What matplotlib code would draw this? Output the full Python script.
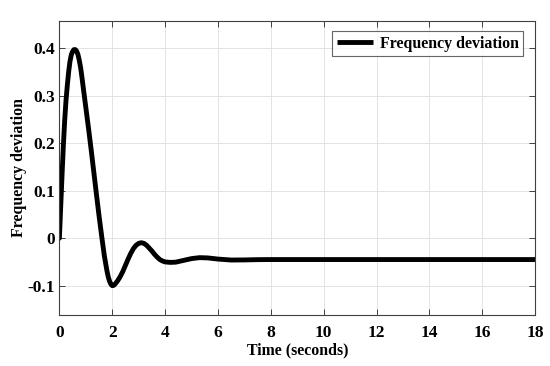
import matplotlib
matplotlib.use("Agg")
import matplotlib.pyplot as plt
from matplotlib.ticker import FuncFormatter

time_s = [0.0, 0.05, 0.1, 0.15, 0.2, 0.25, 0.3, 0.35, 0.4, 0.45, 0.5, 0.55, 0.6,
          0.65, 0.7, 0.75, 0.8, 0.85, 0.9, 1.0, 1.1, 1.2, 1.3, 1.4, 1.5, 1.6,
          1.7, 1.8, 1.85, 1.9, 1.95, 2.0, 2.05, 2.1, 2.2, 2.3, 2.4, 2.5, 2.6,
          2.7, 2.8, 2.9, 3.0, 3.1, 3.2, 3.3, 3.4, 3.5, 3.6, 3.7, 3.8, 3.9, 4.0,
          4.2, 4.4, 4.6, 4.8, 5.0, 5.3, 5.6, 6.0, 6.5, 7.0, 7.5, 8.0, 10.0,
          12.0, 14.0, 16.0, 18.0]
freq_dev = [0.0, 0.067, 0.133, 0.195, 0.248, 0.29, 0.322, 0.35, 0.372, 0.386,
            0.393, 0.397, 0.397, 0.394, 0.387, 0.375, 0.36, 0.34, 0.318, 0.275,
            0.232, 0.187, 0.14, 0.093, 0.047, 0.004, -0.037, -0.069, -0.082,
            -0.091, -0.097, -0.1, -0.0995, -0.097, -0.09, -0.081, -0.07, -0.057,
            -0.044, -0.032, -0.022, -0.015, -0.011, -0.0095, -0.011, -0.015,
            -0.021, -0.027, -0.034, -0.04, -0.045, -0.048, -0.05, -0.051,
            -0.0505, -0.048, -0.0455, -0.043, -0.041, -0.0415, -0.044, -0.046,
            -0.0458, -0.0452, -0.045, -0.045, -0.045, -0.045, -0.045, -0.045]

x_ticks = [0, 2, 4, 6, 8, 10, 12, 14, 16, 18]
y_ticks = [-0.1, 0, 0.1, 0.2, 0.3, 0.4]

plt.rcParams['font.family'] = ['Liberation Serif', 'DejaVu Serif']
plt.rcParams['font.weight'] = 'bold'

fig = plt.figure(figsize=(5.5, 3.66), dpi=100)
ax = fig.add_axes([0.108, 0.139, 0.865, 0.804])

ax.plot(time_s, freq_dev, color='black', linewidth=3.5, label='Frequency deviation',
        solid_capstyle='round', solid_joinstyle='round')

ax.set_xlim(0, 18)
ax.set_ylim(-0.162, 0.4575)
ax.set_xticks(x_ticks)
ax.set_yticks(y_ticks)
ax.yaxis.set_major_formatter(FuncFormatter(lambda v, p: '0' if abs(v) < 1e-9 else f'{v:g}'))

ax.grid(True, color='#e3e3e3', linewidth=0.7)
ax.set_axisbelow(True)
ax.tick_params(direction='in', top=True, right=True, length=4, width=0.7,
               color='#404040', labelsize=12.5)
ax.tick_params(axis='y', pad=3)
ax.tick_params(axis='x', pad=7)
for lbl in ax.get_xticklabels() + ax.get_yticklabels():
    lbl.set_fontweight('bold')
for s in ax.spines.values():
    s.set_color('#404040')
    s.set_linewidth(0.8)

ax.set_xlabel('Time (seconds)', fontsize=11.4, fontweight='bold', labelpad=1)
ax.set_ylabel('Frequency deviation', fontsize=11.4, fontweight='bold', labelpad=0.5)

leg = ax.legend(loc='upper right', fontsize=11.4, frameon=True, fancybox=False,
                handlelength=2.3, borderpad=0.3, handletextpad=0.4,
                borderaxespad=0, bbox_to_anchor=(0.975, 0.966))
leg.get_frame().set_edgecolor('#404040')
leg.get_frame().set_linewidth(0.8)
for t in leg.get_texts():
    t.set_fontweight('bold')
for h in leg.get_lines():
    h.set_solid_capstyle('butt')

fig.savefig('out.png', dpi=100)
